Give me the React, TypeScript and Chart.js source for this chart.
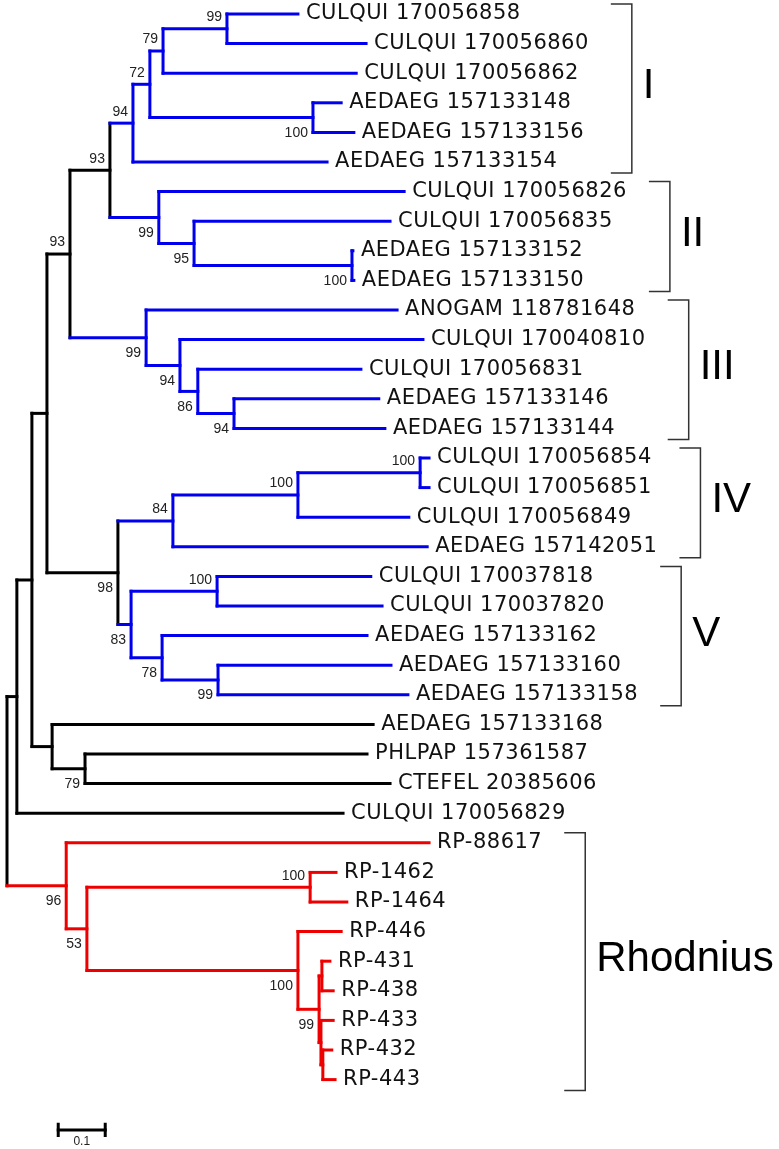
import React, { useEffect, useRef } from "react";
import { Chart, registerables } from "chart.js";

Chart.register(...registerables);

// ---------- DATA ----------
const leafNames = [
  "CULQUI 170056858", "CULQUI 170056860", "CULQUI 170056862", "AEDAEG 157133148",
  "AEDAEG 157133156", "AEDAEG 157133154", "CULQUI 170056826", "CULQUI 170056835",
  "AEDAEG 157133152", "AEDAEG 157133150", "ANOGAM 118781648", "CULQUI 170040810",
  "CULQUI 170056831", "AEDAEG 157133146", "AEDAEG 157133144", "CULQUI 170056854",
  "CULQUI 170056851", "CULQUI 170056849", "AEDAEG 157142051", "CULQUI 170037818",
  "CULQUI 170037820", "AEDAEG 157133162", "AEDAEG 157133160", "AEDAEG 157133158",
  "AEDAEG 157133168", "PHLPAP 157361587", "CTEFEL 20385606", "CULQUI 170056829",
  "RP-88617", "RP-1462", "RP-1464", "RP-446", "RP-431", "RP-438", "RP-433", "RP-432", "RP-443",
];

// distance from root (substitutions/site)
const leafDepth = [
  0.619, 0.764, 0.743, 0.711, 0.738, 0.681, 0.845, 0.815, 0.736, 0.738,
  0.830, 0.885, 0.753, 0.791, 0.804, 0.898, 0.898, 0.855, 0.894, 0.774,
  0.798, 0.766, 0.817, 0.853, 0.779, 0.766, 0.815, 0.715, 0.898, 0.700,
  0.723, 0.711, 0.687, 0.694, 0.694, 0.691, 0.698,
];

const leafGroup = [
  ...Array(24).fill("clade"),
  "backbone", "backbone", "backbone", "backbone",
  ...Array(9).fill("rhodnius"),
];

const nodeKeys = [
  "A", "B", "C", "D", "E", "F", "G", "H", "I", "J", "K", "L", "M", "N",
  "O", "P", "Q", "R", "S", "T", "U", "V", "W", "X", "Y", "Z", "AA",
  "R1", "RP", "RQ", "RR", "RS", "R2", "R3", "R4", "ROOT",
];

const nodeChildren: (string | number)[][] = [
  [0, 1], ["A", 2], [3, 4], ["B", "C"], ["D", 5], [8, 9], [7, "F"], [6, "G"], ["E", "H"],
  [13, 14], [12, "J"], [11, "K"], [10, "L"], ["I", "M"],
  [15, 16], ["O", 17], ["P", 18], [19, 20], [22, 23], [21, "S"], ["R", "T"], ["Q", "U"],
  ["N", "V"], [25, 26], [24, "X"], ["W", "Y"], ["Z", 27],
  [29, 30], [32, 33], [35, 36], [34, "RQ"], ["RP", "RR"], [31, "RS"], ["R1", "R2"], [28, "R3"], ["AA", "R4"],
];

const nodeDepth = [
  0.468, 0.332, 0.651, 0.304, 0.268, 0.734, 0.398, 0.323, 0.219, 0.483, 0.406, 0.368, 0.296, 0.134,
  0.879, 0.619, 0.353, 0.447, 0.449, 0.330, 0.264, 0.236, 0.085, 0.166, 0.096, 0.053, 0.021,
  0.645, 0.670, 0.672, 0.668, 0.664, 0.619, 0.170, 0.126, 0.0,
];

const nodeSupport: (number | null)[] = [
  99, 79, 100, 72, 94, 100, 95, 99, 93, 94, 86, 94, 99, 93,
  100, 100, 84, 100, 99, 78, 83, 98, null, 79, null, null, null,
  100, null, null, null, 99, 100, 53, 96, null,
];

const supportAbove = ["A", "B", "D", "E", "I", "N", "O", "P", "Q", "R", "R1"];

const nodeGroup = [
  "clade", "clade", "clade", "clade", "clade", "clade", "clade", "clade", "backbone",
  "clade", "clade", "clade", "clade", "backbone",
  "clade", "clade", "clade", "clade", "clade", "clade", "clade", "backbone",
  "backbone", "backbone", "backbone", "backbone", "backbone",
  "rhodnius", "rhodnius", "rhodnius", "rhodnius", "rhodnius", "rhodnius", "rhodnius", "rhodnius", "backbone",
];

const cladeNames = ["I", "II", "III", "IV", "V", "Rhodnius"];
const cladeFirst = [0, 6, 10, 15, 19, 28];
const cladeLast = [5, 9, 14, 18, 23, 36];

const scaleBarValue = 0.1;
const scaleBarLabel = "0.1";
const scaleBarStart = 0.109;
const scaleBarRow = 37.7;

// ---------- STYLE ----------
const groupColor: Record<string, string> = {
  clade: "#0000ee",
  backbone: "#000000",
  rhodnius: "#ee0000",
};

function buildTree() {
  const depth = new Map<string | number, number>();
  const parent = new Map<string | number, string>();
  const kids = new Map<string, (string | number)[]>();
  leafDepth.forEach((d, i) => depth.set(i, d));
  nodeKeys.forEach((k, i) => {
    depth.set(k, nodeDepth[i]);
    kids.set(k, nodeChildren[i]);
    nodeChildren[i].forEach((c) => parent.set(c, k));
  });
  const yMemo = new Map<string | number, number>();
  const getY = (id: string | number): number => {
    if (typeof id === "number") return id;
    if (yMemo.has(id)) return yMemo.get(id)!;
    const ch = kids.get(id)!;
    const y = (getY(ch[0]) + getY(ch[ch.length - 1])) / 2;
    yMemo.set(id, y);
    return y;
  };
  return { depth, parent, kids, getY };
}

export default function App() {
  const ref = useRef<HTMLCanvasElement | null>(null);

  useEffect(() => {
    document.body.style.margin = "0";
    const canvas = ref.current;
    if (!canvas) return;
    const { depth, parent, kids, getY } = buildTree();

    const datasets: any[] = [];
    const seg = (pts: { x: number; y: number }[], color: string, width = 3) => {
      datasets.push({
        data: pts,
        showLine: true,
        borderColor: color,
        backgroundColor: color,
        borderWidth: width,
        pointRadius: 0,
        pointHoverRadius: 0,
        borderCapStyle: "square",
        fill: false,
      });
    };

    // leaf branches
    leafNames.forEach((_, i) => {
      const p = parent.get(i)!;
      seg([{ x: depth.get(p)!, y: i }, { x: leafDepth[i], y: i }], groupColor[leafGroup[i]]);
    });
    // internal branches and connectors
    nodeKeys.forEach((k, i) => {
      const col = groupColor[nodeGroup[i]];
      const ch = kids.get(k)!;
      seg([{ x: nodeDepth[i], y: getY(ch[0]) }, { x: nodeDepth[i], y: getY(ch[ch.length - 1]) }], col);
      const p = parent.get(k);
      if (p !== undefined) {
        seg([{ x: depth.get(p)!, y: getY(k) }, { x: nodeDepth[i], y: getY(k) }], col);
      }
    });
    // scale bar
    const tickH = 0.19;
    seg([{ x: scaleBarStart, y: scaleBarRow }, { x: scaleBarStart + scaleBarValue, y: scaleBarRow }], "#000");
    seg([{ x: scaleBarStart, y: scaleBarRow - tickH }, { x: scaleBarStart, y: scaleBarRow + tickH }], "#000");
    seg([{ x: scaleBarStart + scaleBarValue, y: scaleBarRow - tickH }, { x: scaleBarStart + scaleBarValue, y: scaleBarRow + tickH }], "#000");

    const labelPlugin = {
      id: "treeLabels",
      afterDatasetsDraw(chart: any) {
        const ctx = chart.ctx as CanvasRenderingContext2D;
        const xs = chart.scales.x;
        const ys = chart.scales.y;
        ctx.save();
        // leaf labels
        ctx.font = "21px 'DejaVu Sans'";
        (ctx as any).letterSpacing = "0.5px";
        ctx.fillStyle = "#111";
        ctx.textBaseline = "middle";
        ctx.textAlign = "left";
        const rights: number[] = [];
        leafNames.forEach((n, i) => {
          const x = xs.getPixelForValue(leafDepth[i]) + 8;
          const y = ys.getPixelForValue(i);
          ctx.fillText(n, x, y);
          rights[i] = x + ctx.measureText(n).width;
        });
        (ctx as any).letterSpacing = "0px";
        // bootstrap values
        ctx.font = "14px 'Liberation Sans', Arial";
        ctx.textAlign = "right";
        ctx.fillStyle = "#222";
        nodeKeys.forEach((k, i) => {
          const s = nodeSupport[i];
          if (s == null) return;
          const x = xs.getPixelForValue(nodeDepth[i]) - 5;
          const y = ys.getPixelForValue(getY(k)) + (supportAbove.includes(k) ? -11.5 : 15.5);
          ctx.fillText(String(s), x, y);
        });
        // clade brackets
        cladeNames.forEach((name, c) => {
          let right = 0;
          for (let r = cladeFirst[c]; r <= cladeLast[c]; r++) right = Math.max(right, rights[r]);
          const x0 = right + 22;
          const x1 = x0 + 21;
          const yTop = ys.getPixelForValue(cladeFirst[c]) - 10;
          const yBot = ys.getPixelForValue(cladeLast[c]) + 11;
          ctx.strokeStyle = "#333";
          ctx.lineWidth = 1.5;
          ctx.beginPath();
          ctx.moveTo(x0, yTop);
          ctx.lineTo(x1, yTop);
          ctx.lineTo(x1, yBot);
          ctx.lineTo(x0, yBot);
          ctx.stroke();
          ctx.font = "42px 'Liberation Sans', Arial";
          ctx.fillStyle = "#000";
          ctx.textAlign = "left";
          ctx.textBaseline = "middle";
          ctx.fillText(name, x1 + 11, (yTop + yBot) / 2 - 2);
        });
        // scale label
        ctx.font = "12px 'Liberation Sans', Arial";
        ctx.textAlign = "center";
        ctx.textBaseline = "middle";
        ctx.fillStyle = "#222";
        ctx.fillText(
          scaleBarLabel,
          xs.getPixelForValue(scaleBarStart + scaleBarValue / 2),
          ys.getPixelForValue(scaleBarRow) + 12
        );
        ctx.restore();
      },
    };

    const chart = new Chart(canvas, {
      type: "scatter",
      data: { datasets },
      options: {
        animation: false,
        responsive: false,
        maintainAspectRatio: false,
        layout: { padding: 0 },
        plugins: { legend: { display: false }, tooltip: { enabled: false } },
        events: [],
        scales: {
          x: { type: "linear", display: false, min: -7 / 470, max: (779 - 7) / 470 },
          y: { type: "linear", display: false, reverse: true, min: -14 / 29.6, max: (1149 - 14) / 29.6 },
        },
      },
      plugins: [labelPlugin],
    });
    return () => chart.destroy();
  }, []);

  return <canvas ref={ref} width={779} height={1149} style={{ display: "block" }} />;
}
